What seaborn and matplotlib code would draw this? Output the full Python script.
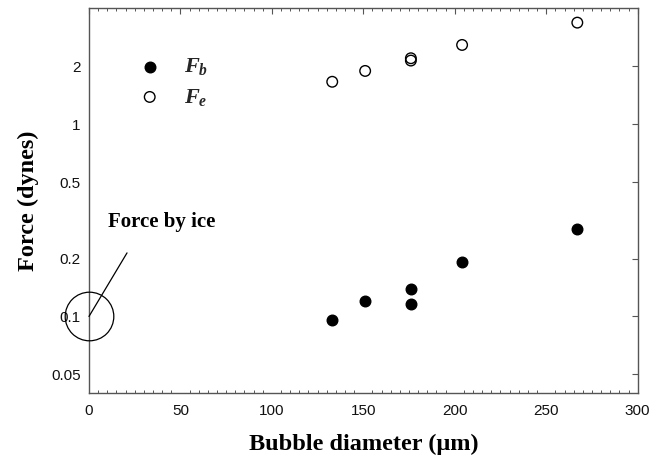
import matplotlib
matplotlib.use("Agg")
import matplotlib.pyplot as plt
import matplotlib.ticker as mticker
import seaborn as sns
import pandas as pd

# Data
diameter = [133, 151, 176, 176, 204, 267]
force_b = [0.096, 0.120, 0.139, 0.116, 0.191, 0.286]
force_e = [1.66, 1.89, 2.20, 2.14, 2.58, 3.37]
ice_x = [0]
ice_force = [0.1]
y_ticks = [0.05, 0.1, 0.2, 0.5, 1, 2]
y_tick_labels = ["0.05", "0.1", "0.2", "0.5", "1", "2"]
x_ticks = [0, 50, 100, 150, 200, 250, 300]

sns.set_theme(style="white")
plt.rcParams["font.family"] = ["Liberation Sans", "DejaVu Sans"]
plt.rcParams["mathtext.fontset"] = "custom"
plt.rcParams["mathtext.rm"] = "Liberation Serif:bold"
plt.rcParams["mathtext.it"] = "Liberation Serif:italic:bold"
plt.rcParams["mathtext.bf"] = "Liberation Serif:bold"

df_b = pd.DataFrame({"d": diameter, "f": force_b})
df_e = pd.DataFrame({"d": diameter, "f": force_e})

fig = plt.figure(figsize=(6.63, 4.62), dpi=100)
ax = fig.add_axes([0.1342, 0.1494, 0.9618 - 0.1342, 0.982 - 0.1494])

sns.scatterplot(data=df_b, x="d", y="f", ax=ax, s=58, color="black",
                edgecolor="black", linewidth=1, label=r"$F_b$", zorder=3)
sns.scatterplot(data=df_e, x="d", y="f", ax=ax, s=58, facecolor="none",
                edgecolor="black", linewidth=1, label=r"$F_e$", zorder=3)

ax.set_yscale("log")
ax.set_xlim(0, 300)
ax.set_ylim(0.04, 4.0)

ax.yaxis.set_major_locator(mticker.FixedLocator(y_ticks))
ax.yaxis.set_major_formatter(mticker.FixedFormatter(y_tick_labels))
ax.yaxis.set_minor_locator(mticker.NullLocator())
ax.xaxis.set_major_locator(mticker.FixedLocator(x_ticks))
ax.xaxis.set_minor_locator(mticker.MultipleLocator(5))

spine_col = "#555555"
for s in ax.spines.values():
    s.set_color(spine_col)
    s.set_linewidth(1.0)

ax.tick_params(axis="both", which="major", direction="in", length=4.5, width=0.8,
               color=spine_col, labelsize=11, labelcolor="#111111",
               top=True, right=True)
ax.tick_params(axis="x", which="major", pad=8)
ax.tick_params(axis="y", which="major", pad=6)
ax.tick_params(axis="x", which="minor", direction="in", length=2.2, width=0.7,
               color=spine_col, top=True, bottom=True)

ax.set_xlabel("Bubble diameter (μm)", family="Liberation Serif", fontweight="bold",
              fontsize=17.5, labelpad=11, color="black")
ax.set_ylabel("Force (dynes)", family="Liberation Serif", fontweight="bold",
              fontsize=17.5, labelpad=9, color="black")

# Ice force annotation
ax.plot(ice_x, ice_force, marker="o", ms=35, mfc="none", mec="black", mew=0.9,
        linestyle="none", clip_on=False, zorder=4)
ax.annotate("", xy=(ice_x[0], ice_force[0]), xytext=(20.8, 0.214),
            arrowprops=dict(arrowstyle="-", color="black", lw=0.9, shrinkA=0, shrinkB=0),
            annotation_clip=False)
ax.text(40, 0.31, "Force by ice", family="Liberation Serif", fontweight="bold",
        fontsize=15, ha="center", va="center", color="black")

leg = ax.legend(loc="upper left", bbox_to_anchor=(0.054, 0.898), frameon=False,
                fontsize=16, handletextpad=0.55, labelspacing=0.42, borderaxespad=0,
                markerscale=1.0)

fig.savefig("out.png", dpi=100)
